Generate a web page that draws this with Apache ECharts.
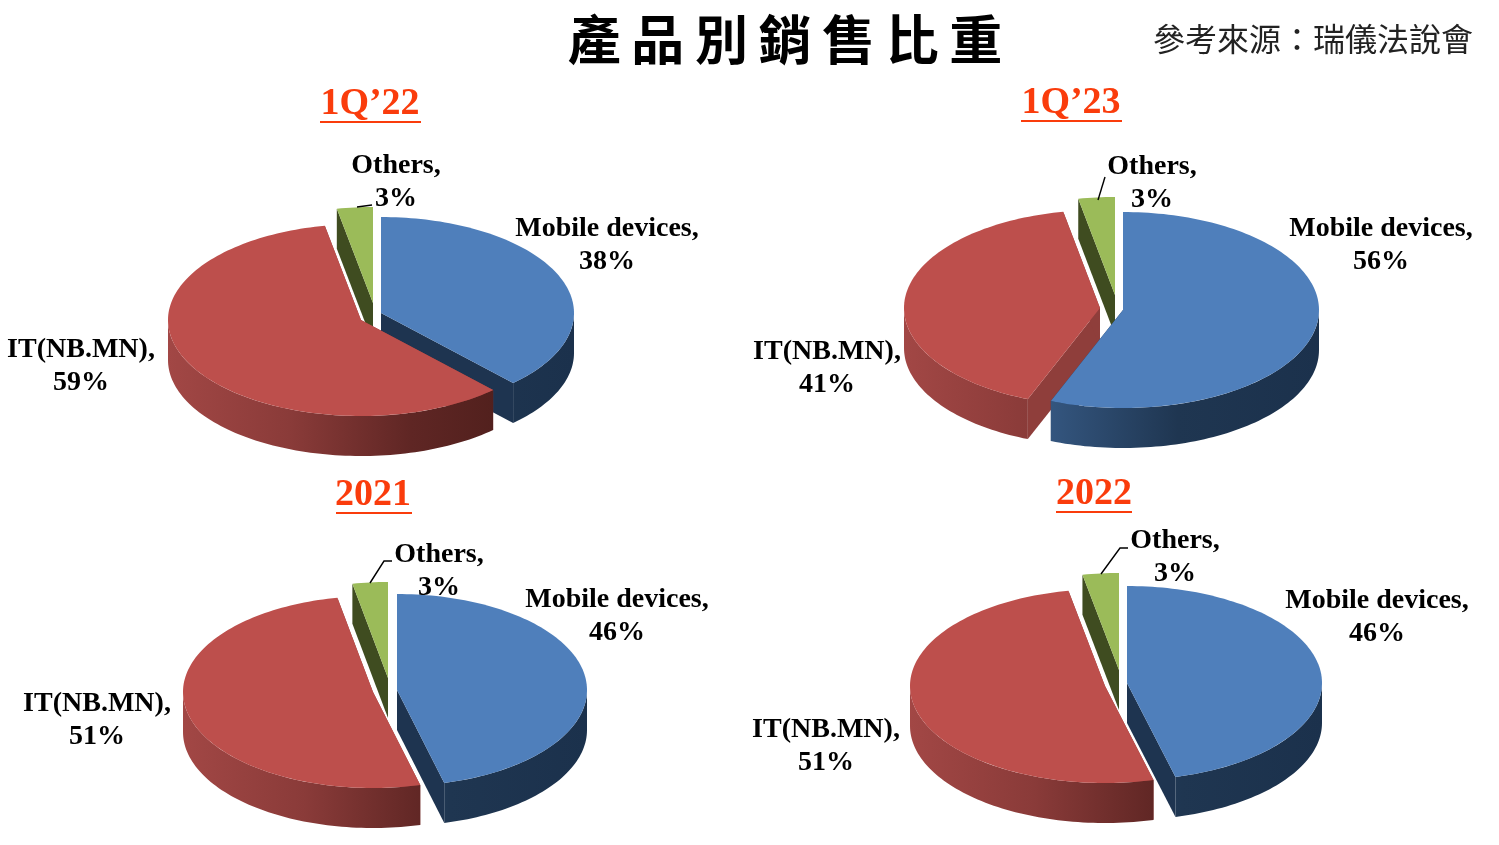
<!DOCTYPE html>
<html>
<head>
<meta charset="utf-8">
<title>產品別銷售比重</title>
<style>
html,body{margin:0;padding:0;background:#fff}
#chart{width:1499px;height:845px}
</style>
<script src="https://cdn.jsdelivr.net/npm/echarts@6/dist/echarts.min.js"></script>
</head>
<body>
<div id="chart"></div>
<script>
// Sales mix by product group, in percent
const periods = ['1Q’22', '1Q’23', '2021', '2022'];
const categories = ['Mobile devices', 'IT(NB.MN)', 'Others'];
const mobileShare = [38, 56, 46, 46];
const itShare = [59, 41, 51, 51];
const othersShare = [3, 3, 3, 3];

const mainTitle = '產\u2009品\u2009別\u2009銷\u2009售\u2009比\u2009重';
const sourceNote = '參考來源：瑞儀法說會';

// Drawing layout of each tilted pie: radii, extrusion, exploded centre per slice, text anchors
const pieLayouts = [
  { rx: 193, ry: 96, depth: 40,
    centers: [[381, 313], [361, 320], [373, 303]],
    labels: [[607, 243], [81, 364], [396, 180]],
    heading: [370, 102], rule: [320, 421, 122],
    leader: [[357, 207], [372, 205]] },
  { rx: 196, ry: 98, depth: 40,
    centers: [[1123, 310], [1100, 308], [1115, 295]],
    labels: [[1381, 243], [827, 366], [1152, 181]],
    heading: [1071, 101], rule: [1021, 1122, 121],
    leader: [[1098, 200], [1105, 177]] },
  { rx: 190, ry: 96, depth: 40,
    centers: [[397, 690], [373, 692], [388, 678]],
    labels: [[617, 614], [97, 718], [439, 569]],
    heading: [373, 493], rule: [336, 412, 513],
    leader: [[370, 583], [384, 561], [392, 561]] },
  { rx: 195, ry: 97, depth: 40,
    centers: [[1127, 683], [1105, 686], [1119, 670]],
    labels: [[1377, 615], [826, 744], [1175, 555]],
    heading: [1094, 492], rule: [1056, 1132, 512],
    leader: [[1101, 574], [1120, 548], [1128, 548]] }
];

// Face colours per category: top surface, cut face, outer wall shading from left to right
const faceStyles = [
  { top: '#4f7fbb', cut: '#1e3450',
    wall: [[0, '#4a75a8'], [0.35, '#34567f'], [0.66, '#1f3651'], [1, '#1b314c']] },
  { top: '#bd4f4c', cut: '#8f3e3b',
    wall: [[0, '#a24745'], [0.3, '#8a3b39'], [0.6, '#5f2624'], [0.85, '#4f1f1c'], [1, '#4a1d1a']] },
  { top: '#9bbb59', cut: '#3f4c20', wall: [[0, '#5f7433'], [1, '#3f4c20']] }
];

const labelFont = 'bold 28px "Liberation Serif", "Times New Roman", serif';
const rad = Math.PI / 180;

function rimPoint(c, p, deg, drop) {
  return [c[0] + p.rx * Math.sin(deg * rad), c[1] - p.ry * Math.cos(deg * rad) + (drop || 0)];
}

function arcPoints(c, p, from, to, drop) {
  const pts = [];
  const steps = Math.max(2, Math.ceil(Math.abs(to - from) / 1.5));
  for (let i = 0; i <= steps; i++) {
    pts.push(rimPoint(c, p, from + (to - from) * i / steps, drop));
  }
  return pts;
}

function cutFace(c, p, deg, color) {
  const rim = rimPoint(c, p, deg);
  return { type: 'polygon', shape: { points: [c, rim, [rim[0], rim[1] + p.depth], [c[0], c[1] + p.depth]] },
           style: { fill: color } };
}

function makeRenderItem(pieIndex) {
  const p = pieLayouts[pieIndex];
  const left = Math.min.apply(null, p.centers.map(c => c[0])) - p.rx;
  const right = Math.max.apply(null, p.centers.map(c => c[0])) + p.rx;
  return function (params, api) {
    const share = api.value(0);
    const start = api.value(1);
    const end = start + share * 3.6;
    const cat = api.value(2);
    const c = p.centers[cat];
    const style = faceStyles[cat];
    const children = [cutFace(c, p, start, style.cut), cutFace(c, p, end, style.cut)];

    // Only the front half of the rim shows its outer wall
    const wallFrom = Math.max(start, 90);
    const wallTo = Math.min(end, 270);
    if (wallTo > wallFrom) {
      const upper = arcPoints(c, p, wallFrom, wallTo, 0);
      const lower = arcPoints(c, p, wallTo, wallFrom, p.depth);
      children.push({
        type: 'polygon',
        shape: { points: upper.concat(lower) },
        style: { fill: { type: 'linear', global: true, x: left, y: 0, x2: right, y2: 0,
                         colorStops: style.wall.map(s => ({ offset: s[0], color: s[1] })) } }
      });
    }

    children.push({
      type: 'polygon',
      shape: { points: [c].concat(arcPoints(c, p, start, end, 0)) },
      style: { fill: style.top }
    });

    const anchor = p.labels[cat];
    children.push({
      type: 'text', z2: 100,
      style: { x: anchor[0], y: anchor[1] + 2, text: categories[cat] + ',\n' + share + '%',
               align: 'center', verticalAlign: 'middle', font: labelFont, lineHeight: 33, fill: '#000' }
    });
    return { type: 'group', children: children };
  };
}

// One custom series per pie; slices are sorted back to front so nearer slices overlap farther ones
const series = periods.map((name, i) => {
  const values = [mobileShare[i], itShare[i], othersShare[i]];
  let cumulative = 0;
  const slices = values.map((v, cat) => {
    const start = cumulative * 3.6;
    cumulative += v;
    return { value: [v, start, cat], depthKey: -Math.cos((start + v * 1.8) * rad) };
  });
  slices.sort((a, b) => a.depthKey - b.depthKey);
  return {
    type: 'custom', name: name, coordinateSystem: 'none', silent: true, animation: false,
    renderItem: makeRenderItem(i),
    data: slices.map(s => ({ value: s.value }))
  };
});

const headingFont = 'bold 38px "Liberation Serif", "Times New Roman", serif';
const graphics = [
  { type: 'text', silent: true, style: { x: 785, y: 40, text: mainTitle, align: 'center', verticalAlign: 'middle',
      font: '700 53px "Noto Sans CJK TC", sans-serif', fill: '#000' } },
  { type: 'text', silent: true, style: { x: 1313, y: 39, text: sourceNote, align: 'center', verticalAlign: 'middle',
      font: '32px "Noto Sans CJK TC", sans-serif', fill: '#222' } }
];
pieLayouts.forEach((p, i) => {
  graphics.push({ type: 'text', silent: true, style: { x: p.heading[0], y: p.heading[1] + 2, text: periods[i],
      align: 'center', verticalAlign: 'middle', font: headingFont, fill: '#fa3c0c' } });
  graphics.push({ type: 'line', silent: true, shape: { x1: p.rule[0], y1: p.rule[2], x2: p.rule[1], y2: p.rule[2] },
      style: { stroke: '#fa3c0c', lineWidth: 2 } });
  graphics.push({ type: 'polyline', silent: true, z: 20, shape: { points: p.leader },
      style: { stroke: '#000', lineWidth: 1.4, fill: 'none' } });
});

const chart = echarts.init(document.getElementById('chart'), null, { renderer: 'canvas' });
chart.setOption({ animation: false, backgroundColor: '#fff', series: series, graphic: graphics });
</script>
</body>
</html>
